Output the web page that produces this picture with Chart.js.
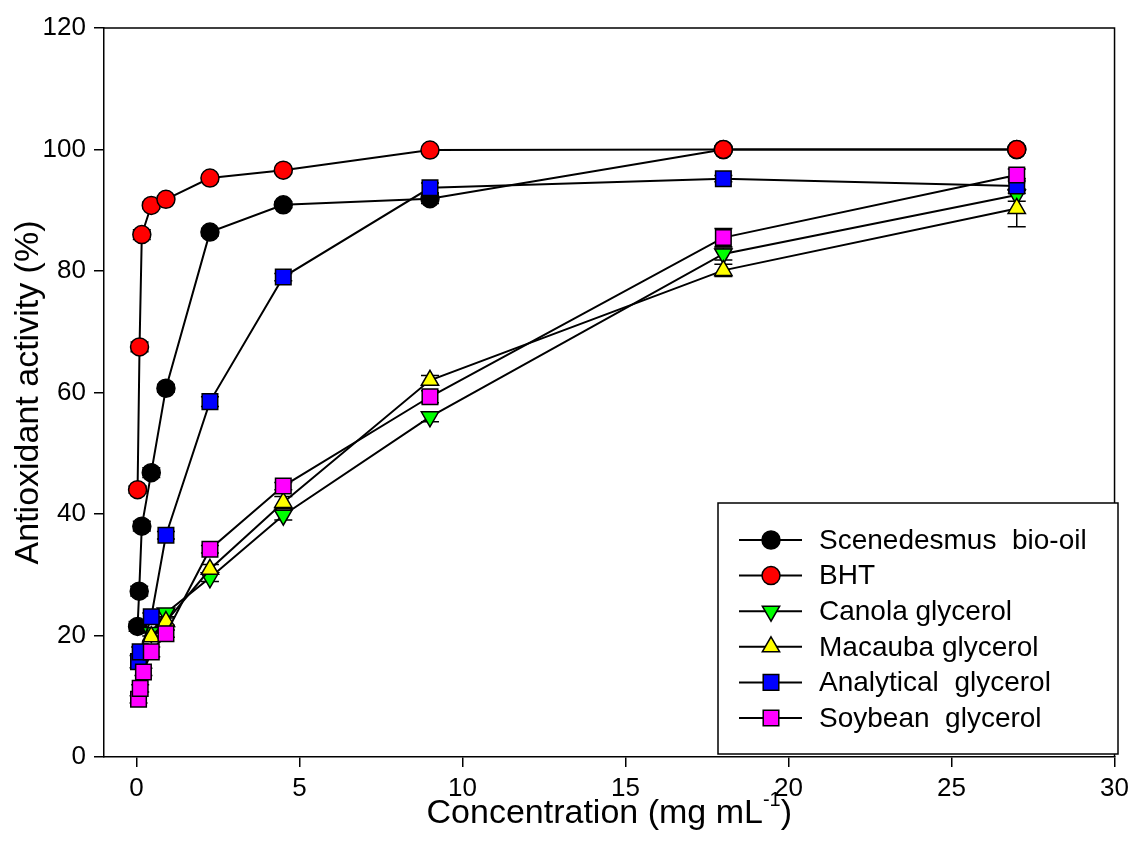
<!DOCTYPE html>
<html>
<head>
<meta charset="utf-8">
<style>
  html, body { margin: 0; padding: 0; background: #fff; }
  #wrap { width: 1135px; height: 857px; }
</style>
<script src="https://cdn.jsdelivr.net/npm/chart.js@4.4.0/dist/chart.umd.min.js"></script>
</head>
<body>
<div id="wrap"><canvas id="myChart"></canvas></div>
<script>
// values
var seriesNames = ['Scenedesmus  bio-oil', 'BHT', 'Canola glycerol', 'Macauba glycerol', 'Analytical  glycerol', 'Soybean  glycerol'];

var bioOilX = [0.03, 0.08, 0.16, 0.45, 0.9, 2.25, 4.5, 9, 18, 27];
var bioOilY = [21.5, 27.3, 38.0, 46.8, 60.7, 86.4, 90.9, 91.9, 100, 100];
var bioOilErr = [0.8, 0.8, 0.8, 0.8, 0.6, 0.6, 0.5, 0.8, 0.3, 0.3];

var bhtX = [0.03, 0.09, 0.16, 0.45, 0.9, 2.25, 4.5, 9, 18, 27];
var bhtY = [44.0, 67.5, 86.0, 90.8, 91.8, 95.3, 96.6, 99.9, 100, 100];
var bhtErr = [0.6, 0.8, 0.8, 0.5, 0.5, 0.4, 0.4, 0.3, 0.2, 0.2];

var canolaX = [0.45, 0.9, 2.25, 4.5, 9, 18, 27];
var canolaY = [20.5, 23.7, 29.5, 39.8, 56.0, 82.8, 92.5];
var canolaErr = [0.6, 0.6, 0.6, 0.8, 0.8, 1.0, 1.0];

var macaubaX = [0.45, 0.9, 2.25, 4.5, 9, 18, 27];
var macaubaY = [19.8, 22.3, 30.9, 41.9, 62.0, 80.1, 90.3];
var macaubaErr = [0.6, 0.6, 0.8, 1.0, 0.8, 1.0, 3.0];

var analyticalX = [0.06, 0.11, 0.45, 0.9, 2.25, 4.5, 9, 18, 27];
var analyticalY = [15.7, 17.3, 23.1, 36.5, 58.5, 79.0, 93.7, 95.2, 94.0];
var analyticalErr = [1.0, 0.8, 0.6, 0.6, 0.8, 0.6, 0.8, 0.5, 1.2];

var soybeanX = [0.06, 0.11, 0.21, 0.45, 0.9, 2.25, 4.5, 9, 18, 27];
var soybeanY = [9.5, 11.3, 14.0, 17.3, 20.3, 34.2, 44.6, 59.3, 85.5, 95.8];
var soybeanErr = [0.6, 0.6, 0.6, 0.8, 0.6, 0.6, 0.6, 1.0, 1.5, 1.0];

var xTicks = [0, 5, 10, 15, 20, 25, 30];
var yTicks = [0, 20, 40, 60, 80, 100, 120];

var FONT = '"Liberation Sans", Arial, sans-serif';

function toPoints(xs, ys) {
    return xs.map(function (x, i) { return { x: x, y: ys[i] }; });
}

function makeSet(label, xs, ys, errs, color, style, rot, radius, order) {
    return {
        label: label,
        data: toPoints(xs, ys),
        errors: errs,
        borderColor: '#000',
        borderWidth: 2,
        backgroundColor: color,
        pointBackgroundColor: color,
        pointBorderColor: '#000',
        pointBorderWidth: 1.5,
        pointStyle: style,
        pointRotation: rot,
        pointRadius: radius,
        pointHoverRadius: radius,
        tension: 0,
        fill: false,
        order: order
    };
}

function drawMarker(ctx, style, rot, r, x, y, fill) {
    ctx.save();
    ctx.fillStyle = fill;
    ctx.strokeStyle = '#000';
    ctx.lineWidth = 1.5;
    ctx.beginPath();
    if (style === 'circle') {
        ctx.arc(x, y, r, 0, Math.PI * 2);
    } else if (style === 'rect') {
        var s = r * Math.SQRT1_2;
        ctx.rect(x - s, y - s, 2 * s, 2 * s);
    } else {
        var a = rot * Math.PI / 180;
        for (var k = 0; k < 3; k++) {
            var px = x + Math.sin(a) * r, py = y - Math.cos(a) * r;
            if (k === 0) ctx.moveTo(px, py); else ctx.lineTo(px, py);
            a += Math.PI * 2 / 3;
        }
        ctx.closePath();
    }
    ctx.fill();
    ctx.stroke();
    ctx.restore();
}

var errorBars = {
    id: 'errorBars',
    beforeDatasetsDraw: function (chart) {
        var ctx = chart.ctx, xs = chart.scales.x, ys = chart.scales.y;
        ctx.save();
        ctx.strokeStyle = '#000';
        ctx.lineWidth = 1.5;
        chart.data.datasets.forEach(function (ds) {
            ds.data.forEach(function (p, i) {
                var e = ds.errors[i];
                if (!e) return;
                var px = xs.getPixelForValue(p.x);
                var top = ys.getPixelForValue(p.y + e), bot = ys.getPixelForValue(p.y - e);
                ctx.beginPath();
                ctx.moveTo(px, top); ctx.lineTo(px, bot);
                ctx.moveTo(px - 9, top); ctx.lineTo(px + 9, top);
                ctx.moveTo(px - 9, bot); ctx.lineTo(px + 9, bot);
                ctx.stroke();
            });
        });
        ctx.restore();
    }
};

var frameAndText = {
    id: 'frameAndText',
    beforeDatasetsDraw: function (chart) {
        var ctx = chart.ctx, a = chart.chartArea;
        ctx.save();
        ctx.strokeStyle = '#000';
        ctx.lineWidth = 1.5;
        ctx.beginPath();
        ctx.moveTo(a.left, a.top); ctx.lineTo(a.right, a.top); ctx.lineTo(a.right, a.bottom);
        ctx.stroke();
        ctx.restore();
    },
    afterDraw: function (chart) {
        var ctx = chart.ctx, a = chart.chartArea;
        // x axis title with superscript
        ctx.save();
        ctx.fillStyle = '#000';
        ctx.textBaseline = 'alphabetic';
        var main = 'Concentration (mg mL', sup = '-1', tail = ')';
        ctx.font = '34px ' + FONT;
        var wMain = ctx.measureText(main).width, wTail = ctx.measureText(tail).width;
        ctx.font = '20px ' + FONT;
        var wSup = ctx.measureText(sup).width;
        var total = wMain + wSup + wTail;
        var x0 = (a.left + a.right) / 2 - total / 2, base = 823;
        ctx.font = '34px ' + FONT;
        ctx.fillText(main, x0, base);
        ctx.font = '20px ' + FONT;
        ctx.fillText(sup, x0 + wMain, base - 17);
        ctx.font = '34px ' + FONT;
        ctx.fillText(tail, x0 + wMain + wSup, base);
        ctx.restore();

        // legend box inside the plot
        var bx = 718, by = 503, bw = 400, bh = 251;
        ctx.save();
        ctx.fillStyle = '#fff';
        ctx.fillRect(bx, by, bw, bh);
        ctx.strokeStyle = '#000';
        ctx.lineWidth = 1.5;
        ctx.strokeRect(bx, by, bw, bh);
        ctx.font = '28px ' + FONT;
        ctx.textBaseline = 'middle';
        seriesNames.forEach(function (name, i) {
            var ds = chart.data.datasets[i];
            var y = 540 + i * 35.6;
            ctx.strokeStyle = '#000';
            ctx.lineWidth = 2;
            ctx.beginPath();
            ctx.moveTo(739, y); ctx.lineTo(802, y);
            ctx.stroke();
            drawMarker(ctx, ds.pointStyle, ds.pointRotation, ds.pointRadius, 771, y, ds.pointBackgroundColor);
            ctx.fillStyle = '#000';
            ctx.fillText(name, 819, y + 1);
        });
        ctx.restore();
    }
};

var ctx = document.getElementById('myChart');
var myChart = new Chart(ctx, {
    type: 'line',
    data: {
        datasets: [
            makeSet(seriesNames[0], bioOilX, bioOilY, bioOilErr, '#000000', 'circle', 0, 9, 6),
            makeSet(seriesNames[1], bhtX, bhtY, bhtErr, '#ff0000', 'circle', 0, 9, 5),
            makeSet(seriesNames[2], canolaX, canolaY, canolaErr, '#00ff00', 'triangle', 180, 10, 4),
            makeSet(seriesNames[3], macaubaX, macaubaY, macaubaErr, '#ffff00', 'triangle', 0, 10, 3),
            makeSet(seriesNames[4], analyticalX, analyticalY, analyticalErr, '#0000ff', 'rect', 0, 11, 2),
            makeSet(seriesNames[5], soybeanX, soybeanY, soybeanErr, '#ff00ff', 'rect', 0, 11, 1)
        ]
    },
    options: {
        responsive: true,
        maintainAspectRatio: false,
        animation: false,
        events: [],
        layout: { padding: { top: 28, right: 18, left: 0, bottom: 0 } },
        plugins: {
            legend: { display: false },
            tooltip: { enabled: false }
        },
        scales: {
            x: {
                type: 'linear',
                min: -1,
                max: 30,
                afterBuildTicks: function (s) { s.ticks = xTicks.map(function (v) { return { value: v }; }); },
                afterFit: function (s) { s.height = 100; },
                grid: { drawOnChartArea: false, drawTicks: true, tickLength: 10, color: '#000', lineWidth: 1.5 },
                border: { display: true, color: '#000', width: 1.5 },
                ticks: { color: '#000', font: { family: FONT, size: 26 }, padding: 6, maxRotation: 0 }
            },
            y: {
                type: 'linear',
                min: 0,
                max: 120,
                afterBuildTicks: function (s) { s.ticks = yTicks.map(function (v) { return { value: v }; }); },
                afterFit: function (s) { s.width = 104; },
                grid: { drawOnChartArea: false, drawTicks: true, tickLength: 10, color: '#000', lineWidth: 1.5 },
                border: { display: true, color: '#000', width: 1.5 },
                ticks: { color: '#000', font: { family: FONT, size: 26 }, padding: 8 },
                title: {
                    display: true,
                    text: 'Antioxidant activity (%)',
                    color: '#000',
                    font: { family: FONT, size: 34 },
                    padding: { top: 8, bottom: 0 }
                }
            }
        }
    },
    plugins: [errorBars, frameAndText]
});
</script>
</body>
</html>
